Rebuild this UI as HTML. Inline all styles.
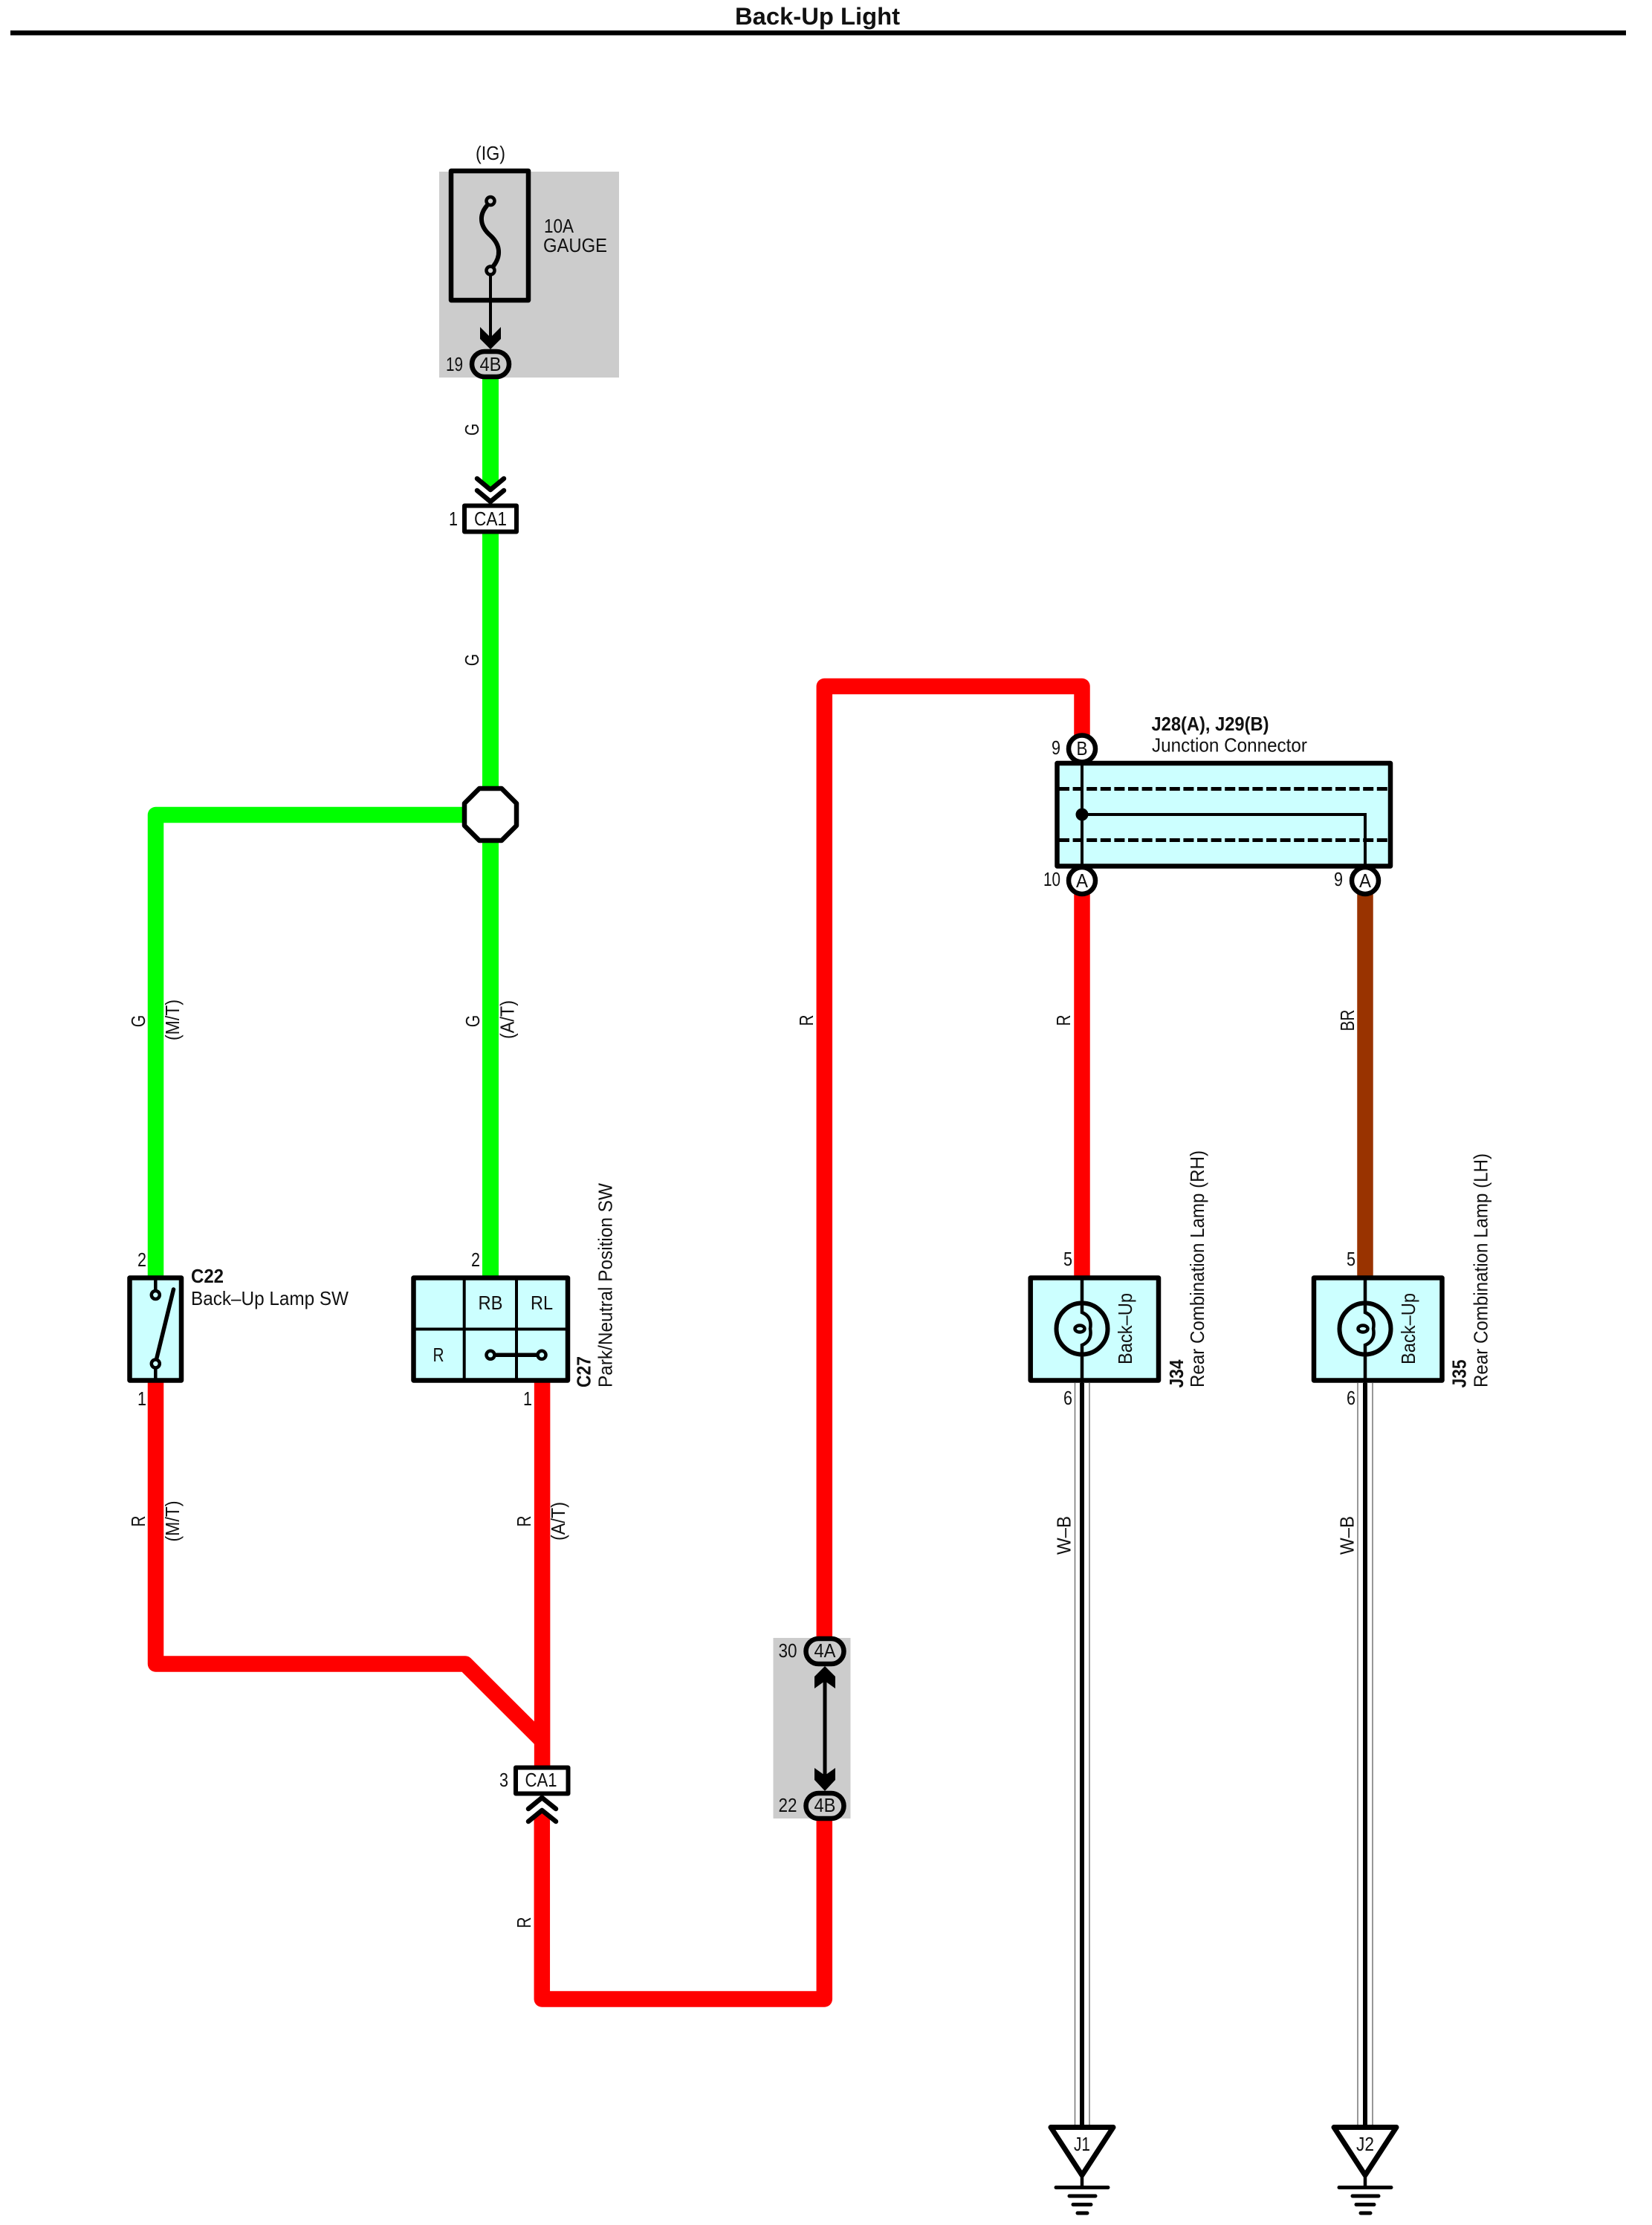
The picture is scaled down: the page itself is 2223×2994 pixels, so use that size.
<!DOCTYPE html>
<html><head><meta charset="utf-8"><title>Back-Up Light</title>
<style>
html,body{margin:0;padding:0;background:#fff}
svg{display:block}
text{font-family:"Liberation Sans",sans-serif;font-size:26px;fill:#111}
.b{font-weight:bold}
.m{text-anchor:middle}
.box{fill:#ccffff;stroke:#000;stroke-width:6.5;stroke-linejoin:round}
.w{fill:none;stroke-width:21.5;stroke-linejoin:round;stroke-linecap:round}
.k{fill:none;stroke:#000;stroke-linecap:round;stroke-linejoin:round}
</style></head><body>
<svg xmlns="http://www.w3.org/2000/svg" width="2223" height="2994" viewBox="0 0 2223 2994">
<rect width="2223" height="2994" fill="#fff"/>
<!-- title -->
<text class="b m" x="1100" y="33" style="font-size:32px" textLength="222" lengthAdjust="spacingAndGlyphs">Back-Up Light</text>
<rect x="14" y="41" width="2174" height="6.5" fill="#000"/>

<!-- gray areas -->
<rect x="591" y="231" width="242" height="277" fill="#cccccc"/>
<rect x="1040.5" y="2204" width="104" height="243" fill="#cccccc"/>

<!-- green wires -->
<g fill="#00ff00">
<polygon points="649,510 671,510 671,648 660,657 649,648"/>
<rect x="649" y="716" width="22" height="344"/>
<rect x="649" y="1132" width="22" height="586"/>
</g>
<polyline class="w" stroke="#00ff00" points="209.5,1718 209.5,1096.5 626,1096.5" style="stroke-linecap:butt"/>
<!-- red wires -->
<g stroke="#ff0000">
<polyline class="w" points="209.5,1860 209.5,2239 626,2239 729.3,2342" style="stroke-linecap:butt"/>
<line class="w" x1="729.6" y1="1860" x2="729.6" y2="2378" style="stroke-linecap:butt"/>
<polyline class="w" points="729.3,2450 729.3,2690 1109.3,2690 1109.3,2440"/>
<polyline class="w" points="1109.3,2230 1109.3,923.5 1456,923.5 1456,1000"/>
<line class="w" x1="1456" y1="1190" x2="1456" y2="1716" style="stroke-linecap:round"/>
</g>
<polygon points="716,2450 729.3,2438 742,2450 742,2430 716,2430" fill="#fff"/>
<line class="w" x1="1837" y1="1190" x2="1837" y2="1716" stroke="#993300"/>

<!-- W-B wires -->
<g>
<line x1="1446.5" y1="1861" x2="1446.5" y2="2862" stroke="#777" stroke-width="1.5"/>
<line x1="1466" y1="1861" x2="1466" y2="2862" stroke="#777" stroke-width="1.5"/>
<line x1="1456" y1="1861" x2="1456" y2="2862" stroke="#000" stroke-width="6"/>
<line x1="1827" y1="1861" x2="1827" y2="2862" stroke="#777" stroke-width="1.5"/>
<line x1="1847" y1="1861" x2="1847" y2="2862" stroke="#777" stroke-width="1.5"/>
<line x1="1837" y1="1861" x2="1837" y2="2862" stroke="#000" stroke-width="6"/>
</g>

<!-- fuse -->
<text class="m" x="660" y="215" textLength="40" lengthAdjust="spacingAndGlyphs">(IG)</text>
<rect x="607" y="230" width="104" height="174" fill="none" stroke="#000" stroke-width="6.5" stroke-linejoin="round"/>
<path class="k" stroke-width="6" d="M655 277C644 290 646 305 660 317C674 330 674 345 664 358"/>
<circle cx="660" cy="270.5" r="5.5" fill="#cccccc" stroke="#000" stroke-width="4.5"/>
<circle cx="660" cy="364" r="5.5" fill="#cccccc" stroke="#000" stroke-width="4.5"/>
<line x1="660" y1="369" x2="660" y2="460" stroke="#000" stroke-width="4"/>
<polygon points="646,440 660,454 674,440 674,456 660,470 646,456" fill="#000"/>
<text x="732" y="313" textLength="40" lengthAdjust="spacingAndGlyphs">10A</text>
<text x="731" y="339" textLength="86" lengthAdjust="spacingAndGlyphs">GAUGE</text>
<rect x="635" y="473" width="50" height="34" rx="17" fill="#cccccc" stroke="#000" stroke-width="6.5"/>
<text class="m" x="660" y="499" textLength="29" lengthAdjust="spacingAndGlyphs">4B</text>
<text x="600" y="499" textLength="23" lengthAdjust="spacingAndGlyphs">19</text>

<!-- upper CA1 -->
<polyline class="k" stroke-width="6.5" points="642,644 660,659 678,644"/>
<polyline class="k" stroke-width="6.5" points="642,660 660,675 678,660"/>
<rect x="625" y="680.5" width="70" height="35" fill="#fff" stroke="#000" stroke-width="6" stroke-linejoin="round"/>
<text x="638" y="707" textLength="44" lengthAdjust="spacingAndGlyphs">CA1</text>
<text x="604" y="707" textLength="12" lengthAdjust="spacingAndGlyphs">1</text>

<!-- splice -->
<polygon points="645,1061 675,1061 695,1081 695,1111 675,1131 645,1131 625,1111 625,1081" fill="#fff" stroke="#000" stroke-width="6.5" stroke-linejoin="round"/>

<!-- wire labels -->
<g>
<text class="m" transform="translate(644,578) rotate(-90)" textLength="16.5" lengthAdjust="spacingAndGlyphs">G</text>
<text class="m" transform="translate(644,888) rotate(-90)" textLength="16.5" lengthAdjust="spacingAndGlyphs">G</text>
<text class="m" transform="translate(645,1374) rotate(-90)" textLength="16.5" lengthAdjust="spacingAndGlyphs">G</text>
<text class="m" transform="translate(691.7,1372) rotate(-90)" textLength="52" lengthAdjust="spacingAndGlyphs">(A/T)</text>
<text class="m" transform="translate(195,1374) rotate(-90)" textLength="16.5" lengthAdjust="spacingAndGlyphs">G</text>
<text class="m" transform="translate(241,1372.5) rotate(-90)" textLength="55" lengthAdjust="spacingAndGlyphs">(M/T)</text>
<text class="m" transform="translate(195,2047) rotate(-90)" textLength="15" lengthAdjust="spacingAndGlyphs">R</text>
<text class="m" transform="translate(241,2047) rotate(-90)" textLength="55" lengthAdjust="spacingAndGlyphs">(M/T)</text>
<text class="m" transform="translate(714,2047) rotate(-90)" textLength="15" lengthAdjust="spacingAndGlyphs">R</text>
<text class="m" transform="translate(760,2047) rotate(-90)" textLength="52" lengthAdjust="spacingAndGlyphs">(A/T)</text>
<text class="m" transform="translate(714,2587) rotate(-90)" textLength="15" lengthAdjust="spacingAndGlyphs">R</text>
<text class="m" transform="translate(1094,1373) rotate(-90)" textLength="15" lengthAdjust="spacingAndGlyphs">R</text>
<text class="m" transform="translate(1440,1373) rotate(-90)" textLength="15" lengthAdjust="spacingAndGlyphs">R</text>
<text class="m" transform="translate(1822,1373) rotate(-90)" textLength="29" lengthAdjust="spacingAndGlyphs">BR</text>
<text class="m" transform="translate(1440.5,2066) rotate(-90)" textLength="52" lengthAdjust="spacingAndGlyphs">W–B</text>
<text class="m" transform="translate(1821.7,2066) rotate(-90)" textLength="52" lengthAdjust="spacingAndGlyphs">W–B</text>
</g>

<!-- C22 -->
<rect class="box" x="174.5" y="1719.5" width="69.5" height="138"/>
<line x1="209.3" y1="1717" x2="209.3" y2="1736" stroke="#000" stroke-width="4.5"/>
<line x1="209.3" y1="1842" x2="209.3" y2="1860" stroke="#000" stroke-width="4.5"/>
<line class="k" x1="233.5" y1="1735" x2="211" y2="1827" stroke-width="5.5"/>
<circle cx="209.3" cy="1742.5" r="5.5" fill="#ccffff" stroke="#000" stroke-width="4.5"/>
<circle cx="209.3" cy="1835" r="5.5" fill="#ccffff" stroke="#000" stroke-width="4.5"/>
<text x="185" y="1704" textLength="12" lengthAdjust="spacingAndGlyphs">2</text>
<text x="185" y="1891" textLength="12" lengthAdjust="spacingAndGlyphs">1</text>
<text class="b" x="257" y="1726" textLength="44" lengthAdjust="spacingAndGlyphs">C22</text>
<text x="257" y="1756" textLength="212" lengthAdjust="spacingAndGlyphs">Back–Up Lamp SW</text>

<!-- C27 -->
<rect class="box" x="556.5" y="1719.5" width="207.5" height="138"/>
<g stroke="#000" stroke-width="4">
<line x1="624.7" y1="1718" x2="624.7" y2="1860"/>
<line x1="695" y1="1718" x2="695" y2="1860"/>
<line x1="556" y1="1788.5" x2="765" y2="1788.5"/>
</g>
<text class="m" x="660" y="1762" textLength="33" lengthAdjust="spacingAndGlyphs">RB</text>
<text class="m" x="729" y="1762" textLength="30" lengthAdjust="spacingAndGlyphs">RL</text>
<text class="m" x="590" y="1832" textLength="15" lengthAdjust="spacingAndGlyphs">R</text>
<line x1="660" y1="1823.3" x2="729" y2="1823.3" stroke="#000" stroke-width="5.5"/>
<circle cx="660" cy="1823.3" r="5.5" fill="#ccffff" stroke="#000" stroke-width="4.5"/>
<circle cx="729" cy="1823.3" r="5.5" fill="#ccffff" stroke="#000" stroke-width="4.5"/>
<text x="634" y="1704" textLength="12" lengthAdjust="spacingAndGlyphs">2</text>
<text x="704" y="1891" textLength="12" lengthAdjust="spacingAndGlyphs">1</text>
<text class="b" transform="translate(794.5,1867) rotate(-90)" textLength="42" lengthAdjust="spacingAndGlyphs">C27</text>
<text transform="translate(823.5,1867) rotate(-90)" textLength="275" lengthAdjust="spacingAndGlyphs">Park/Neutral Position SW</text>

<!-- lower CA1 -->
<rect x="694" y="2378.5" width="70.5" height="35" fill="#fff" stroke="#000" stroke-width="6" stroke-linejoin="round"/>
<text x="706.5" y="2404" textLength="43" lengthAdjust="spacingAndGlyphs">CA1</text>
<text x="672" y="2404" textLength="12" lengthAdjust="spacingAndGlyphs">3</text>
<polyline class="k" stroke-width="6.5" points="711,2434 729.3,2419 748,2434"/>
<polyline class="k" stroke-width="6.5" points="711,2451 729.3,2436 748,2451"/>

<!-- 4A / 4B -->
<line x1="1110" y1="2255" x2="1110" y2="2395" stroke="#000" stroke-width="5"/>
<polygon points="1096,2272 1110,2262 1124,2272 1124,2256 1110,2242 1096,2256" fill="#000"/>
<polygon points="1096,2379 1110,2389 1124,2379 1124,2395 1110,2410 1096,2395" fill="#000"/>
<rect x="1084.5" y="2205" width="51" height="34" rx="17" fill="#cccccc" stroke="#000" stroke-width="6.5"/>
<rect x="1084.5" y="2413" width="51" height="34" rx="17" fill="#cccccc" stroke="#000" stroke-width="6.5"/>
<text class="m" x="1110" y="2230" textLength="29" lengthAdjust="spacingAndGlyphs">4A</text>
<text class="m" x="1110" y="2438" textLength="29" lengthAdjust="spacingAndGlyphs">4B</text>
<text x="1047.5" y="2230" textLength="25" lengthAdjust="spacingAndGlyphs">30</text>
<text x="1047.5" y="2438" textLength="25" lengthAdjust="spacingAndGlyphs">22</text>

<!-- junction connector -->
<rect class="box" x="1422.5" y="1027" width="448.5" height="138.5"/>
<g stroke="#000" stroke-width="5" stroke-dasharray="14 4.6">
<line x1="1425" y1="1061.5" x2="1869" y2="1061.5"/>
<line x1="1425" y1="1130.5" x2="1869" y2="1130.5"/>
</g>
<polyline points="1456,1026 1456,1168" fill="none" stroke="#000" stroke-width="4"/>
<polyline points="1456,1096 1837,1096 1837,1168" fill="none" stroke="#000" stroke-width="4"/>
<circle cx="1456" cy="1096" r="8.5" fill="#000"/>
<circle cx="1456" cy="1007.5" r="18" fill="#fff" stroke="#000" stroke-width="6.5"/>
<circle cx="1456" cy="1185" r="18" fill="#fff" stroke="#000" stroke-width="6.5"/>
<circle cx="1837" cy="1185" r="18" fill="#fff" stroke="#000" stroke-width="6.5"/>
<text class="m" x="1456" y="1016" textLength="15" lengthAdjust="spacingAndGlyphs">B</text>
<text class="m" x="1456" y="1194" textLength="16" lengthAdjust="spacingAndGlyphs">A</text>
<text class="m" x="1837" y="1194" textLength="16" lengthAdjust="spacingAndGlyphs">A</text>
<text x="1415" y="1015" textLength="12" lengthAdjust="spacingAndGlyphs">9</text>
<text x="1404" y="1192" textLength="23" lengthAdjust="spacingAndGlyphs">10</text>
<text x="1795" y="1192" textLength="12" lengthAdjust="spacingAndGlyphs">9</text>
<text class="b" x="1549.5" y="983" textLength="158" lengthAdjust="spacingAndGlyphs">J28(A), J29(B)</text>
<text x="1550" y="1011.5" textLength="209" lengthAdjust="spacingAndGlyphs">Junction Connector</text>

<!-- J34 -->
<rect class="box" x="1386.7" y="1719.5" width="172.3" height="138"/>
<circle cx="1456" cy="1788" r="34.5" fill="none" stroke="#000" stroke-width="6"/>
<path d="M1456 1717V1766Q1470 1772 1467 1788Q1470 1804 1456 1810V1861" fill="none" stroke="#000" stroke-width="4.5"/>
<ellipse cx="1453" cy="1788" rx="6.5" ry="4.5" fill="none" stroke="#000" stroke-width="4.5"/>
<text transform="translate(1523,1836) rotate(-90)" textLength="96" lengthAdjust="spacingAndGlyphs">Back–Up</text>
<text class="b" transform="translate(1592,1867.5) rotate(-90)" textLength="38" lengthAdjust="spacingAndGlyphs">J34</text>
<text transform="translate(1620,1867) rotate(-90)" textLength="319" lengthAdjust="spacingAndGlyphs">Rear Combination Lamp (RH)</text>
<text x="1431" y="1703" textLength="12" lengthAdjust="spacingAndGlyphs">5</text>
<text x="1431" y="1890" textLength="12" lengthAdjust="spacingAndGlyphs">6</text>

<!-- J35 -->
<rect class="box" x="1768" y="1719.5" width="172.5" height="138"/>
<circle cx="1837" cy="1788" r="34.5" fill="none" stroke="#000" stroke-width="6"/>
<path d="M1837 1717V1766Q1851 1772 1848 1788Q1851 1804 1837 1810V1861" fill="none" stroke="#000" stroke-width="4.5"/>
<ellipse cx="1834" cy="1788" rx="6.5" ry="4.5" fill="none" stroke="#000" stroke-width="4.5"/>
<text transform="translate(1904,1836) rotate(-90)" textLength="96" lengthAdjust="spacingAndGlyphs">Back–Up</text>
<text class="b" transform="translate(1972.5,1867.5) rotate(-90)" textLength="38" lengthAdjust="spacingAndGlyphs">J35</text>
<text transform="translate(2001.5,1867) rotate(-90)" textLength="315" lengthAdjust="spacingAndGlyphs">Rear Combination Lamp (LH)</text>
<text x="1812" y="1703" textLength="12" lengthAdjust="spacingAndGlyphs">5</text>
<text x="1812" y="1890" textLength="12" lengthAdjust="spacingAndGlyphs">6</text>

<!-- grounds -->
<g>
<polygon points="1414,2862.5 1498,2862.5 1456,2927" fill="#fff" stroke="#000" stroke-width="7" stroke-linejoin="round"/>
<line x1="1456" y1="2925" x2="1456" y2="2943" stroke="#000" stroke-width="4.5"/>
<g stroke="#000" stroke-width="5" stroke-linecap="round">
<line x1="1421" y1="2943.5" x2="1491" y2="2943.5"/>
<line x1="1439" y1="2955" x2="1474" y2="2955"/>
<line x1="1444" y1="2966.5" x2="1468" y2="2966.5"/>
<line x1="1450" y1="2978" x2="1463" y2="2978"/>
</g>
<text class="m" x="1456" y="2894" textLength="22" lengthAdjust="spacingAndGlyphs">J1</text>
</g>
<g>
<polygon points="1795,2862.5 1879,2862.5 1837,2927" fill="#fff" stroke="#000" stroke-width="7" stroke-linejoin="round"/>
<line x1="1837" y1="2925" x2="1837" y2="2943" stroke="#000" stroke-width="4.5"/>
<g stroke="#000" stroke-width="5" stroke-linecap="round">
<line x1="1802" y1="2943.5" x2="1872" y2="2943.5"/>
<line x1="1820" y1="2955" x2="1855" y2="2955"/>
<line x1="1825" y1="2966.5" x2="1849" y2="2966.5"/>
<line x1="1831" y1="2978" x2="1844" y2="2978"/>
</g>
<text class="m" x="1837" y="2894" textLength="24" lengthAdjust="spacingAndGlyphs">J2</text>
</g>
</svg>
</body></html>
